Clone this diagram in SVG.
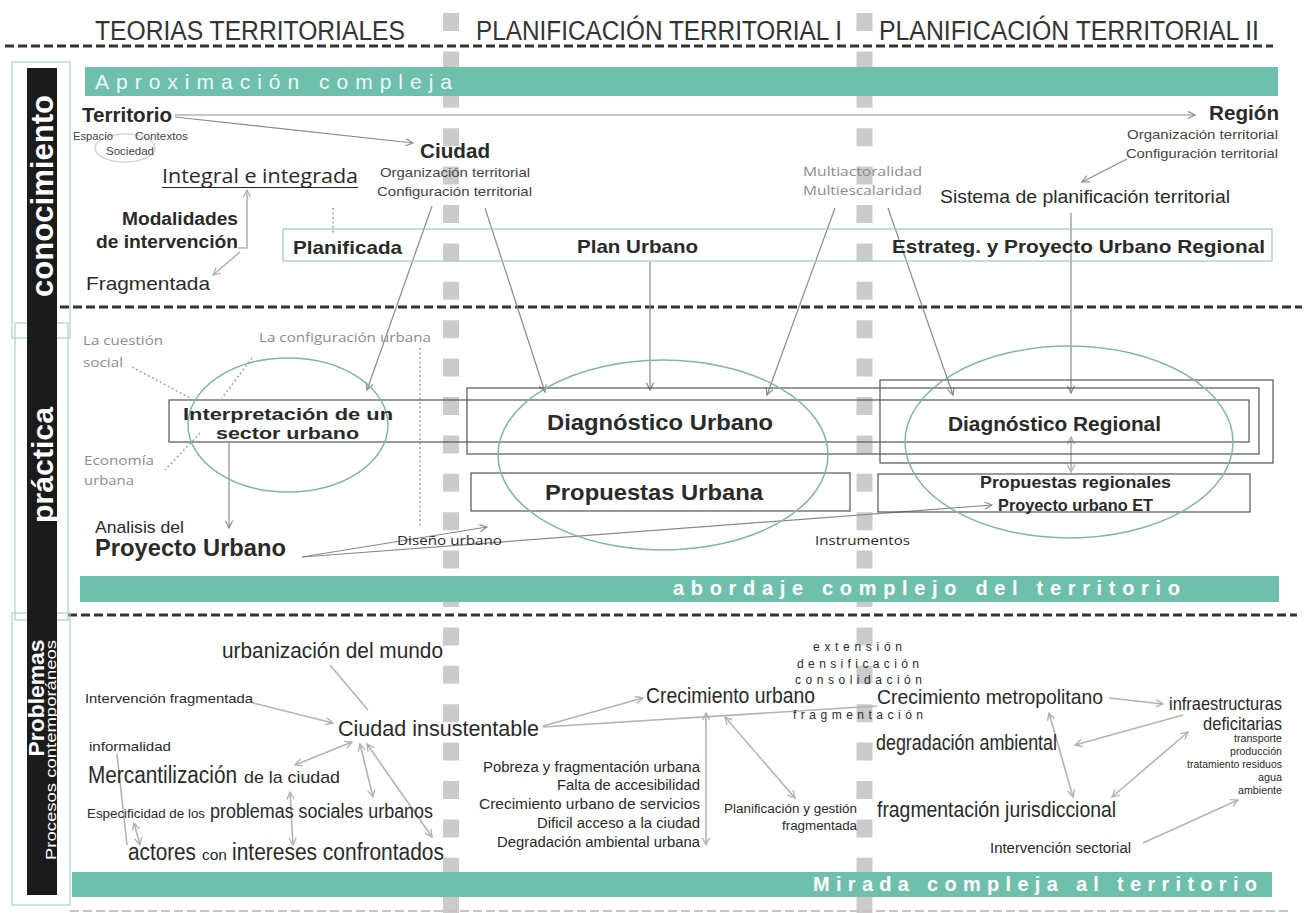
<svg xmlns="http://www.w3.org/2000/svg" width="1306" height="913" viewBox="0 0 1306 913">
<defs>
<style>
text{font-family:"Liberation Sans",Arial,sans-serif;fill:#2a2a2a}
.b{font-weight:bold}
.c{font-family:"Open Sans","Noto Sans","Liberation Sans",sans-serif}
.gr{fill:#8c8c8c}
.mid{fill:#444}
.hd{font-size:27px;fill:#333}
.bar{fill:#6fbfad}
.bt{fill:#fff;font-weight:bold;font-size:20px}
.dash{stroke:#333;stroke-width:3;stroke-dasharray:9 4;fill:none}
.col{stroke:#cbcbcb;stroke-width:16;stroke-dasharray:18 20.4;fill:none}
.ln{stroke:#8a8a8a;stroke-width:1.2;fill:none}
.lnl{stroke:#b3b3b3;stroke-width:1.6;fill:none}
.dot{stroke:#a8a8a8;stroke-width:1.6;stroke-dasharray:2 2.5;fill:none}
.ell{fill:none;stroke:#7fb6a9;stroke-width:1.5}
.box{fill:none;stroke:#555;stroke-width:1.2}
.tbox{fill:none;stroke:#9fd0c4;stroke-width:1.3}
.side{fill:#fff;font-weight:bold}
.out{fill:none;stroke:#a9d3c9;stroke-width:1.2}
</style>
<marker id="ah" viewBox="0 0 10 10" refX="9" refY="5" markerWidth="9" markerHeight="9" orient="auto-start-reverse" markerUnits="userSpaceOnUse">
<path d="M1,1 L9,5 L1,9" fill="none" stroke="#8a8a8a" stroke-width="1.3"/>
</marker>
<marker id="ahl" viewBox="0 0 10 10" refX="9" refY="5" markerWidth="9" markerHeight="9" orient="auto-start-reverse" markerUnits="userSpaceOnUse">
<path d="M1,1 L9,5 L1,9" fill="none" stroke="#b3b3b3" stroke-width="1.5"/>
</marker>
</defs>
<rect width="1306" height="913" fill="#fff"/>

<g id="columns">
<line class="col" x1="451" y1="13" x2="451" y2="913"/>
<line class="col" x1="864.5" y1="13" x2="864.5" y2="913"/>
</g>

<g id="header">
<text class="hd" x="95" y="40" textLength="310" lengthAdjust="spacingAndGlyphs">TEORIAS TERRITORIALES</text>
<text class="hd" x="476" y="40" textLength="366" lengthAdjust="spacingAndGlyphs">PLANIFICACIÓN TERRITORIAL I</text>
<text class="hd" x="879" y="40" textLength="380" lengthAdjust="spacingAndGlyphs">PLANIFICACIÓN TERRITORIAL II</text>
<line class="dash" x1="5" y1="46" x2="1273" y2="46"/>
<line class="dash" x1="60" y1="307" x2="1302" y2="307"/>
<line class="dash" x1="68" y1="615" x2="1297" y2="615"/>
<line x1="70" y1="911" x2="1290" y2="911" stroke="#c4c4c4" stroke-width="2" stroke-dasharray="9 4"/>
</g>

<g id="side-bars">
<rect class="out" x="12" y="62" width="58" height="276"/>
<rect class="out" x="15" y="323" width="53" height="297"/>
<rect class="out" x="12" y="613" width="58" height="292"/>
<rect x="27" y="68" width="30" height="827" fill="#1b1b1b"/>
<text class="side" transform="translate(53,196) rotate(-90)" text-anchor="middle" font-size="31" textLength="202" lengthAdjust="spacingAndGlyphs">conocimiento</text>
<text class="side" transform="translate(53,465) rotate(-90)" text-anchor="middle" font-size="30" textLength="116" lengthAdjust="spacingAndGlyphs">práctica</text>
<text class="side" transform="translate(44,698) rotate(-90)" text-anchor="middle" font-size="22" textLength="117" lengthAdjust="spacingAndGlyphs">Problemas</text>
<text transform="translate(56,750) rotate(-90)" text-anchor="middle" font-size="14" style="fill:#fff" textLength="220" lengthAdjust="spacingAndGlyphs">Procesos contemporáneos</text>
</g>

<g id="bars">
<rect class="bar" x="85" y="67" width="1193" height="29"/>
<text x="95" y="89" font-size="21" style="fill:#eef7f4" textLength="357" lengthAdjust="spacing">Aproximación  compleja</text>
<rect class="bar" x="80" y="576" width="1199" height="26"/>
<text class="bt" x="673" y="595" textLength="507" lengthAdjust="spacing">abordaje  complejo  del  territorio</text>
<rect class="bar" x="72" y="872" width="1200" height="25"/>
<text class="bt" x="813" y="891" textLength="444" lengthAdjust="spacing">Mirada  compleja  al territorio</text>
</g>

<g id="connectors">
<line class="ln" x1="175" y1="115" x2="1195" y2="115" marker-end="url(#ah)"/>
<line class="ln" x1="175" y1="117" x2="413" y2="143" marker-end="url(#ah)"/>
<polyline class="lnl" points="238,248 247,248 247,190" marker-end="url(#ahl)"/>
<line class="lnl" x1="240" y1="252" x2="213" y2="275" marker-end="url(#ahl)"/>
<line class="dot" x1="333" y1="208" x2="333" y2="233"/>
<line class="ln" x1="1127" y1="159" x2="1082" y2="182" marker-end="url(#ah)"/>
<line class="ln" x1="432" y1="206" x2="367" y2="390" marker-end="url(#ah)"/>
<line class="ln" x1="485" y1="208" x2="545" y2="392" marker-end="url(#ah)"/>
<line class="ln" x1="650" y1="262" x2="650" y2="390" marker-end="url(#ah)"/>
<line class="ln" x1="835" y1="208" x2="767" y2="395" marker-end="url(#ah)"/>
<line class="ln" x1="888" y1="208" x2="953" y2="395" marker-end="url(#ah)"/>
<line class="ln" x1="1071" y1="213" x2="1071" y2="393" marker-end="url(#ah)"/>
<line class="dot" x1="132" y1="367" x2="190" y2="398"/>
<line class="dot" x1="252" y1="358" x2="222" y2="398"/>
<line class="dot" x1="200" y1="433" x2="165" y2="470"/>
<line class="dot" x1="420" y1="348" x2="420" y2="527"/>
<line class="ln" x1="229" y1="443" x2="229" y2="528" marker-end="url(#ah)"/>
<line class="ln" x1="302" y1="557" x2="487" y2="527" marker-end="url(#ah)"/>
<line class="ln" x1="302" y1="557" x2="992" y2="505" marker-end="url(#ah)"/>
<line class="lnl" x1="1071" y1="437" x2="1071" y2="472" marker-start="url(#ahl)" marker-end="url(#ahl)"/>
<line class="lnl" x1="330" y1="665" x2="368" y2="710"/>
<line class="lnl" x1="253" y1="703" x2="333" y2="723" marker-end="url(#ahl)"/>
<line class="lnl" x1="295" y1="765" x2="352" y2="742" marker-start="url(#ahl)" marker-end="url(#ahl)"/>
<line class="lnl" x1="360" y1="744" x2="373" y2="797" marker-start="url(#ahl)" marker-end="url(#ahl)"/>
<line class="lnl" x1="367" y1="744" x2="432" y2="837" marker-start="url(#ahl)" marker-end="url(#ahl)"/>
<line class="lnl" x1="290" y1="792" x2="293" y2="845" marker-start="url(#ahl)" marker-end="url(#ahl)"/>
<line class="lnl" x1="117" y1="754" x2="127" y2="845"/>
<line class="lnl" x1="134" y1="823" x2="140" y2="845" marker-start="url(#ahl)" marker-end="url(#ahl)"/>
<line class="lnl" x1="543" y1="726" x2="643" y2="698" marker-end="url(#ahl)"/>
<line class="lnl" x1="543" y1="727" x2="877" y2="706"/>
<line class="lnl" x1="706" y1="713" x2="706" y2="845" marker-start="url(#ahl)" marker-end="url(#ahl)"/>
<line class="lnl" x1="725" y1="717" x2="795" y2="798" marker-start="url(#ahl)" marker-end="url(#ahl)"/>
<line class="lnl" x1="1109" y1="698" x2="1163" y2="704" marker-end="url(#ahl)"/>
<line class="lnl" x1="1183" y1="715" x2="1075" y2="745" marker-end="url(#ahl)"/>
<line class="lnl" x1="1049" y1="713" x2="1073" y2="797" marker-start="url(#ahl)" marker-end="url(#ahl)"/>
<line class="lnl" x1="1188" y1="732" x2="1112" y2="797" marker-start="url(#ahl)" marker-end="url(#ahl)"/>
<line class="lnl" x1="1143" y1="843" x2="1238" y2="800" marker-end="url(#ahl)"/>
</g>

<g id="territorio">
<ellipse cx="125" cy="148" rx="30" ry="14" fill="none" stroke="#d6d6d6" stroke-width="1.5"/>
<text class="b" x="82" y="122" font-size="20" textLength="90" lengthAdjust="spacingAndGlyphs">Territorio</text>
<text class="mid" x="73" y="140" font-size="11" textLength="40" lengthAdjust="spacingAndGlyphs">Espacio</text>
<text class="mid" x="135" y="140" font-size="11" textLength="53" lengthAdjust="spacingAndGlyphs">Contextos</text>
<text class="mid" x="106" y="155" font-size="11" textLength="48" lengthAdjust="spacingAndGlyphs">Sociedad</text>
</g>

<g id="ciudad">
<text class="b" x="420" y="158" font-size="20" textLength="70" lengthAdjust="spacingAndGlyphs">Ciudad</text>
<text class="mid" x="380" y="177" font-size="13" textLength="150" lengthAdjust="spacingAndGlyphs">Organización territorial</text>
<text class="mid" x="377" y="196" font-size="13" textLength="155" lengthAdjust="spacingAndGlyphs">Configuración territorial</text>
</g>

<g id="region">
<text class="b" x="1209" y="120" font-size="20" textLength="70" lengthAdjust="spacingAndGlyphs">Región</text>
<text class="mid" x="1127" y="139" font-size="13" textLength="151" lengthAdjust="spacingAndGlyphs">Organización territorial</text>
<text class="mid" x="1126" y="158" font-size="13" textLength="152" lengthAdjust="spacingAndGlyphs">Configuración territorial</text>
</g>

<g id="integral">
<text class="c" x="162" y="183" font-size="20" fill="#222" textLength="196" lengthAdjust="spacingAndGlyphs">Integral e integrada</text>
<line x1="162" y1="187.5" x2="358" y2="187.5" stroke="#222" stroke-width="1.2"/>
</g>

<g id="modalidades">
<text class="b" x="122" y="225" font-size="18" fill="#333" textLength="116" lengthAdjust="spacingAndGlyphs">Modalidades</text>
<text class="b" x="96" y="248" font-size="18" fill="#333" textLength="142" lengthAdjust="spacingAndGlyphs">de intervención</text>
</g>

<g id="fragmentada">
<text x="86" y="290" font-size="19" fill="#333" textLength="124" lengthAdjust="spacingAndGlyphs">Fragmentada</text>
</g>

<g id="planes">
<rect class="tbox" x="283" y="229" width="989" height="32"/>
<text class="b" x="293" y="254" font-size="19" textLength="109" lengthAdjust="spacingAndGlyphs">Planificada</text>
<text class="b" x="577" y="253" font-size="19" textLength="121" lengthAdjust="spacingAndGlyphs">Plan Urbano</text>
<text class="b" x="892" y="253" font-size="19" textLength="373" lengthAdjust="spacingAndGlyphs">Estrateg. y Proyecto Urbano Regional</text>
</g>

<g id="multi">
<text class="c gr" x="803" y="176" font-size="13" textLength="119" lengthAdjust="spacingAndGlyphs">Multiactoralidad</text>
<text class="c gr" x="803" y="195" font-size="13" textLength="119" lengthAdjust="spacingAndGlyphs">Multiescalaridad</text>
</g>

<g id="sistema">
<text x="940" y="203" font-size="19" fill="#333" textLength="290" lengthAdjust="spacingAndGlyphs">Sistema de planificación territorial</text>
</g>

<g id="contexto-practica">
<text class="c gr" x="83" y="345" font-size="13" textLength="80" lengthAdjust="spacingAndGlyphs">La cuestión</text>
<text class="c gr" x="83" y="367" font-size="13" textLength="40" lengthAdjust="spacingAndGlyphs">social</text>
<text class="c gr" x="259" y="342" font-size="13" textLength="172" lengthAdjust="spacingAndGlyphs">La configuración urbana</text>
<text class="c gr" x="84" y="465" font-size="13" textLength="70" lengthAdjust="spacingAndGlyphs">Economía</text>
<text class="c gr" x="84" y="485" font-size="13" textLength="50" lengthAdjust="spacingAndGlyphs">urbana</text>
</g>

<g id="boxes">
<rect class="box" x="169" y="400" width="1080" height="42"/>
<rect class="box" x="467" y="388" width="792" height="66"/>
<rect class="box" x="880" y="380" width="393" height="83"/>
<rect class="box" x="471" y="473" width="379" height="38"/>
<rect class="box" x="878" y="474" width="372" height="38"/>
</g>

<g id="interpretacion">
<ellipse class="ell" cx="288" cy="425" rx="100" ry="67"/>
<text class="b" x="183" y="420" font-size="16" fill="#111" textLength="210" lengthAdjust="spacingAndGlyphs">Interpretación de un</text>
<text class="b" x="216" y="439" font-size="16" fill="#111" textLength="143" lengthAdjust="spacingAndGlyphs">sector urbano</text>
</g>

<g id="diagnostico-urbano">
<ellipse class="ell" cx="663" cy="455" rx="165" ry="95"/>
<text class="b" x="547" y="430" font-size="22" textLength="226" lengthAdjust="spacingAndGlyphs">Diagnóstico Urbano</text>
</g>

<g id="propuestas-urbana">
<text class="b" x="545" y="500" font-size="22" textLength="218" lengthAdjust="spacingAndGlyphs">Propuestas Urbana</text>
</g>

<g id="diagnostico-regional">
<ellipse class="ell" cx="1069" cy="442" rx="164" ry="96"/>
<text class="b" x="948" y="431" font-size="20" textLength="213" lengthAdjust="spacingAndGlyphs">Diagnóstico Regional</text>
</g>

<g id="propuestas-regionales">
<text class="b" x="980" y="488" font-size="17" textLength="191" lengthAdjust="spacingAndGlyphs">Propuestas regionales</text>
<text class="b" x="998" y="511" font-size="17" textLength="155" lengthAdjust="spacingAndGlyphs">Proyecto urbano ET</text>
</g>

<g id="proyecto-urbano">
<text x="95" y="533" font-size="17" fill="#333" textLength="89" lengthAdjust="spacingAndGlyphs">Analisis del</text>
<text class="b" x="95" y="556" font-size="23" textLength="191" lengthAdjust="spacingAndGlyphs">Proyecto Urbano</text>
</g>

<g id="labels-practica">
<text class="c" x="397" y="545" font-size="13" fill="#555" textLength="105" lengthAdjust="spacingAndGlyphs">Diseño urbano</text>
<text class="c" x="815" y="545" font-size="13" fill="#555" textLength="95" lengthAdjust="spacingAndGlyphs">Instrumentos</text>
</g>

<g id="problemas-ciudad">
<text x="222" y="658" font-size="22" fill="#333" textLength="221" lengthAdjust="spacingAndGlyphs">urbanización del mundo</text>
<text x="85" y="703" font-size="13" fill="#444" textLength="168" lengthAdjust="spacingAndGlyphs">Intervención fragmentada</text>
<text x="338" y="736" font-size="22" fill="#333" textLength="201" lengthAdjust="spacingAndGlyphs">Ciudad  insustentable</text>
<text x="89" y="751" font-size="13" fill="#444" textLength="82" lengthAdjust="spacingAndGlyphs">informalidad</text>
<text x="88" y="783" font-size="23" fill="#333" textLength="149" lengthAdjust="spacingAndGlyphs">Mercantilización</text>
<text x="244" y="783" font-size="17" fill="#333" textLength="96" lengthAdjust="spacingAndGlyphs">de la ciudad</text>
<text x="87" y="818" font-size="13" fill="#444" textLength="118" lengthAdjust="spacingAndGlyphs">Especificidad de los</text>
<text x="210" y="818" font-size="20" fill="#333" textLength="223" lengthAdjust="spacingAndGlyphs">problemas sociales urbanos</text>
<text x="128" y="860" font-size="23" fill="#333" textLength="68" lengthAdjust="spacingAndGlyphs">actores</text>
<text x="202" y="860" font-size="14" fill="#333" textLength="25" lengthAdjust="spacingAndGlyphs">con</text>
<text x="232" y="860" font-size="23" fill="#333" textLength="212" lengthAdjust="spacingAndGlyphs">intereses confrontados</text>
</g>

<g id="crecimiento-urbano">
<text x="646" y="703" font-size="22" fill="#333" textLength="169" lengthAdjust="spacingAndGlyphs">Crecimiento urbano</text>
<text x="483" y="772" font-size="14" fill="#444" textLength="217" lengthAdjust="spacingAndGlyphs">Pobreza y fragmentación urbana</text>
<text x="557" y="790" font-size="14" fill="#444" textLength="143" lengthAdjust="spacingAndGlyphs">Falta de accesibilidad</text>
<text x="479" y="809" font-size="14" fill="#444" textLength="221" lengthAdjust="spacingAndGlyphs">Crecimiento urbano   de servicios</text>
<text x="537" y="828" font-size="14" fill="#444" textLength="163" lengthAdjust="spacingAndGlyphs">Dificil acceso a la ciudad</text>
<text x="497" y="847" font-size="14" fill="#444" textLength="203" lengthAdjust="spacingAndGlyphs">Degradación ambiental urbana</text>
<text x="724" y="813" font-size="12" fill="#444" textLength="133" lengthAdjust="spacingAndGlyphs">Planificación y gestión</text>
<text x="782" y="830" font-size="12" fill="#444" textLength="75" lengthAdjust="spacingAndGlyphs">fragmentada</text>
</g>

<g id="modos-crecimiento">
<text x="813" y="651" font-size="12" fill="#555" textLength="89" lengthAdjust="spacing">extensión</text>
<text x="797" y="668" font-size="12" fill="#555" textLength="122" lengthAdjust="spacing">densificación</text>
<text x="795" y="684" font-size="12" fill="#555" textLength="127" lengthAdjust="spacing">consolidación</text>
<text x="793" y="719" font-size="12" fill="#555" textLength="130" lengthAdjust="spacing">fragmentación</text>
</g>

<g id="metropolitano">
<text x="877" y="704" font-size="21" fill="#333" textLength="226" lengthAdjust="spacingAndGlyphs">Crecimiento metropolitano</text>
<text x="876" y="750" font-size="22" fill="#333" textLength="181" lengthAdjust="spacingAndGlyphs">degradación ambiental</text>
<text x="877" y="817" font-size="22" fill="#333" textLength="239" lengthAdjust="spacingAndGlyphs">fragmentación jurisdiccional</text>
<text x="990" y="853" font-size="14" fill="#444" textLength="141" lengthAdjust="spacingAndGlyphs">Intervención sectorial</text>
</g>

<g id="infraestructuras">
<text x="1169" y="710" font-size="19" fill="#333" textLength="113" lengthAdjust="spacingAndGlyphs">infraestructuras</text>
<text x="1203" y="730" font-size="19" fill="#333" textLength="79" lengthAdjust="spacingAndGlyphs">deficitarias</text>
<text x="1234" y="742" font-size="10" fill="#555" textLength="48" lengthAdjust="spacingAndGlyphs">transporte</text>
<text x="1230" y="755" font-size="10" fill="#555" textLength="52" lengthAdjust="spacingAndGlyphs">producción</text>
<text x="1187" y="768" font-size="10" fill="#555" textLength="95" lengthAdjust="spacingAndGlyphs">tratamiento residuos</text>
<text x="1258" y="781" font-size="10" fill="#555" textLength="24" lengthAdjust="spacingAndGlyphs">agua</text>
<text x="1238" y="794" font-size="10" fill="#555" textLength="44" lengthAdjust="spacingAndGlyphs">ambiente</text>
</g>
</svg>
